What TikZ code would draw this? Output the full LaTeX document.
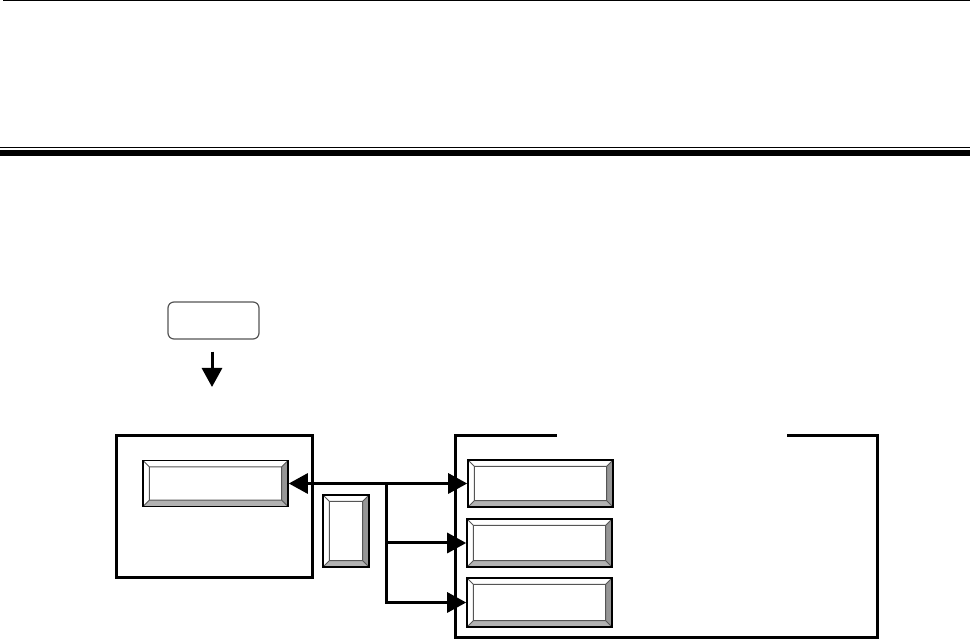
\documentclass[tikz,border=0pt]{standalone}
\usetikzlibrary{arrows.meta, calc}
\definecolor{bevShade}{RGB}{150,150,150}
\definecolor{bevLow}{RGB}{178,178,178}
\definecolor{capEdge}{RGB}{85,85,85}
\newcommand{\bev}{3.2pt}

\begin{document}
\begin{tikzpicture}[
    x=0.5pt, y=-0.5pt,
    bevelbtn/.style={rectangle, draw=black, line width=0.8pt, inner sep=0pt, fill=white,
      path picture={
        \coordinate (bnw) at (path picture bounding box.north west);
        \coordinate (bne) at (path picture bounding box.north east);
        \coordinate (bsw) at (path picture bounding box.south west);
        \coordinate (bse) at (path picture bounding box.south east);
        \coordinate (inw) at ($(bnw)+(\bev,-\bev)$);
        \coordinate (ine) at ($(bne)+(-\bev,-\bev)$);
        \coordinate (isw) at ($(bsw)+(\bev,\bev)$);
        \coordinate (ise) at ($(bse)+(-\bev,\bev)$);
        \fill[bevShade] (bne) -- (bse) -- (ise) -- (ine) -- cycle;
        \fill[bevLow] (bsw) -- (bse) -- (ise) -- (isw) -- cycle;
        \draw[capEdge, line width=0.5pt] (inw) rectangle (ise)
          (bnw) -- (inw) (bne) -- (ine) (bsw) -- (isw) (bse) -- (ise);
      }},
    capbox/.style={rectangle, draw=capEdge, line width=0.6pt, rounded corners=3pt, inner sep=0pt},
    frame/.style={line width=1.5pt, line join=miter},
    arrow/.style={-{Triangle[length=9.5pt, width=10pt]}, line width=1.5pt},
    biarrow/.style={{Triangle[length=9.5pt, width=10pt]}-{Triangle[length=9.5pt, width=10pt]}, line width=1.5pt}
]
\useasboundingbox (0,0) rectangle (970,641);

% Header rules
\draw[line width=0.7pt] (3,0.6) -- (970,0.6);
\draw[line width=0.7pt] (0,147.6) -- (970,147.6);
\draw[line width=2.9pt] (0,152.9) -- (970,152.9);

% Top caption box and arrow
\node[capbox, minimum width=45.5pt, minimum height=18.5pt] (cap) at (213.5,320.5) {};
\coordinate (capend) at (212,387);
\draw[arrow, shorten <=6pt] (cap.south -| capend) -- (capend);

% Left block
\node[rectangle, draw, frame, minimum width=98pt, minimum height=71pt, inner sep=0pt] (host) at (214,507) {};
\node[bevelbtn, minimum width=72.5pt, minimum height=23pt] (hbtn) at (215.5,483.5) {};

% Middle small button
\node[bevelbtn, minimum width=23pt, minimum height=36pt] (mid) at (346,531) {};

% Right group
\node[rectangle, minimum width=210.5pt, minimum height=100.5pt, inner sep=0pt] (grp) at (666.5,536.5) {};
\draw[frame] ($(grp.north west)+(101,0)$) -- (grp.north west) -- (grp.south west)
  -- (grp.south east) -- (grp.north east) -- ($(grp.north east)+(-90,0)$);

\node[bevelbtn, minimum width=72.5pt, minimum height=23.5pt] (r1) at (540.5,483.5) {};
\node[bevelbtn, minimum width=72.5pt, minimum height=24pt] (r2) at (539.5,543) {};
\node[bevelbtn, minimum width=72.5pt, minimum height=24.5pt] (r3) at (539.5,602.5) {};

% Connectors
\coordinate (split) at (386,483.5);
\draw[biarrow] (hbtn.east) -- (r1.west);
\draw[arrow] (split) |- (r2.west);
\draw[arrow] (split) |- (r3.west);

\end{tikzpicture}
\end{document}
